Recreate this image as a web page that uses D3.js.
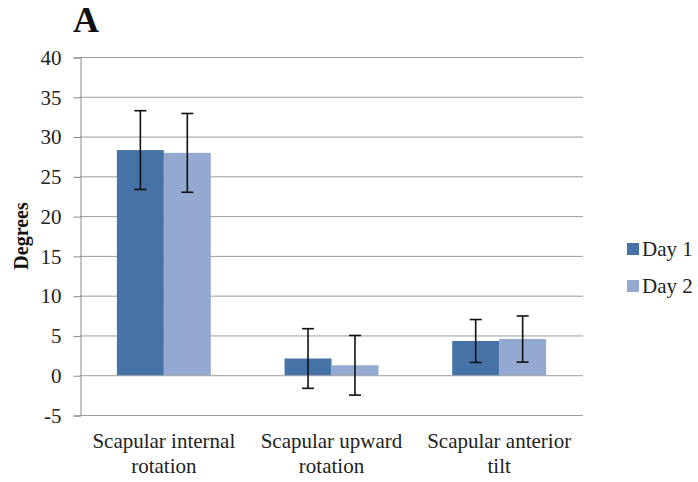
<!DOCTYPE html>
<html>
<head>
<meta charset="utf-8">
<script src="https://cdnjs.cloudflare.com/ajax/libs/d3/7.8.5/d3.min.js"></script>
<style>
  body { margin: 0; background: #fff; }
</style>
</head>
<body>
<svg id="chart" width="698" height="482"></svg>
<script>
// Scapular kinematics, mean ± SD per day
const categories = [["Scapular internal", "rotation"], ["Scapular upward", "rotation"], ["Scapular anterior", "tilt"]];
const seriesNames = ["Day 1", "Day 2"];
const day1 = [28.3, 2.1, 4.3];
const day2 = [27.95, 1.25, 4.55];
const day1Err = [4.95, 3.75, 2.7];
const day2Err = [4.95, 3.75, 2.9];
const yTicks = [-5, 0, 5, 10, 15, 20, 25, 30, 35, 40];
const colors = ["#4572A7", "#94A9CF"];

const serif = "Liberation Serif";
const svg = d3.select("#chart").attr("font-family", serif);
const plotLeft = 80, plotRight = 583, plotTop = 57, plotBottom = 415;

const x0 = d3.scaleBand().domain(d3.range(categories.length)).range([plotLeft, plotRight]).paddingInner(0.44).paddingOuter(0.22);
const x1 = d3.scaleBand().domain(d3.range(seriesNames.length)).range([0, x0.bandwidth()]);
const y = d3.scaleLinear().domain([-5, 40]).range([plotBottom, plotTop]);

// Horizontal gridlines
svg.append("g").selectAll("line").data(yTicks).join("line")
  .attr("x1", plotLeft).attr("x2", plotRight)
  .attr("y1", d => y(d) + 0.5).attr("y2", d => y(d) + 0.5)
  .attr("stroke", "#9a9a9a").attr("stroke-width", 1);

// Value axis
const yAxis = d3.axisLeft(y).tickValues(yTicks).tickSize(7).tickPadding(12).tickFormat(d => String(d));
const ya = svg.append("g").attr("transform", `translate(${plotLeft + 0.5},0.5)`).call(yAxis);
ya.attr("font-family", serif).attr("font-size", 21);
ya.select(".domain").attr("stroke", "#8a8a8a");
ya.selectAll(".tick line").attr("stroke", "#8a8a8a");
ya.selectAll(".tick text").attr("fill", "#222");

// Bars
const series = [day1, day2];
const errs = [day1Err, day2Err];
series.forEach((vals, s) => {
  const g = svg.append("g");
  g.selectAll("rect").data(vals).join("rect")
    .attr("x", (d, i) => x0(i) + x1(s))
    .attr("y", d => y(Math.max(0, d)))
    .attr("width", x1.bandwidth())
    .attr("height", d => Math.abs(y(d) - y(0)))
    .attr("fill", colors[s]);
});

// Error bars
series.forEach((vals, s) => {
  const g = svg.append("g").attr("stroke", "#111").attr("stroke-width", 1.6);
  vals.forEach((v, i) => {
    const cx = x0(i) + x1(s) + x1.bandwidth() / 2;
    const hi = y(v + errs[s][i]), lo = y(v - errs[s][i]);
    g.append("line").attr("x1", cx).attr("x2", cx).attr("y1", hi).attr("y2", lo);
    g.append("line").attr("x1", cx - 6).attr("x2", cx + 6).attr("y1", hi).attr("y2", hi);
    g.append("line").attr("x1", cx - 6).attr("x2", cx + 6).attr("y1", lo).attr("y2", lo);
  });
});

// Category labels
const cl = svg.append("g").attr("font-size", 21).attr("fill", "#222").attr("text-anchor", "middle");
categories.forEach((lines, i) => {
  const cx = x0(i) + x0.bandwidth() / 2;
  const t = cl.append("text").attr("x", cx).attr("y", 448);
  lines.forEach((ln, k) => t.append("tspan").attr("x", cx).attr("dy", k === 0 ? 0 : 25).text(ln));
});

// Axis title
svg.append("text").attr("transform", "translate(28,236) rotate(-90)")
  .attr("text-anchor", "middle").attr("font-size", 20).attr("font-weight", "bold").attr("fill", "#111")
  .text("Degrees");

// Panel letter
svg.append("text").attr("x", 73).attr("y", 32).attr("font-size", 36).attr("font-weight", "bold").attr("fill", "#111").text("A");

// Legend
const lg = svg.append("g").attr("font-size", 21).attr("fill", "#222");
seriesNames.forEach((n, s) => {
  const yy = 249 + s * 37;
  lg.append("rect").attr("x", 627).attr("y", yy - 6).attr("width", 12).attr("height", 12).attr("fill", colors[s]);
  lg.append("text").attr("x", 642).attr("y", yy + 7).text(n);
});
</script>
</body>
</html>
